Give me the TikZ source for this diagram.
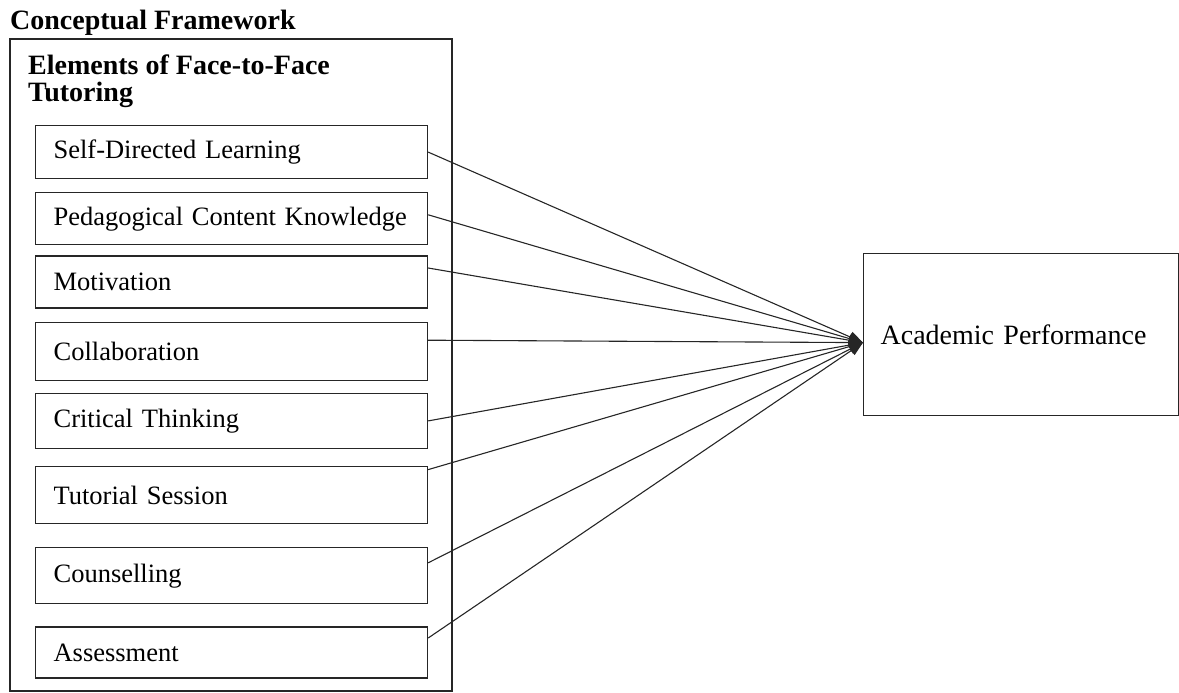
\documentclass[tikz,border=0pt]{standalone}
\usepackage{fontspec}
\setmainfont{Liberation Serif}
\usepackage{tikz}
\usetikzlibrary{positioning,arrows.meta}
\definecolor{cLine}{HTML}{262626}
\tikzset{
  frm/.style={draw=cLine, line width=1.2pt},
  elem/.style={frm, text width=356pt, inner xsep=18pt, inner ysep=0pt,
               align=left, font=\fontsize{26.5}{30}\selectfont},
  outc/.style={frm, text width=281pt, inner xsep=17pt, inner ysep=0pt,
               minimum height=162pt, align=left, font=\fontsize{28}{32}\selectfont},
  hd/.style={inner sep=0pt, align=left, font=\bfseries\fontsize{28}{26.7}\selectfont},
  ar/.style={-{Triangle[length=14pt,width=11pt]}, cLine, line width=1.1pt}
}
\begin{document}
\begin{tikzpicture}[x=1pt, y=1pt]
\useasboundingbox (0,0) rectangle (1179,-693);
\node[hd, anchor=base west] (title) at (10,-30) {Conceptual Framework};
\draw[frm] (10,-39) rectangle (452,-691);
\node[hd, anchor=base west] (head) at (28,-101.7) {Elements of Face-to-Face\\Tutoring};
\node[elem, anchor=north west, minimum height=53pt] (sdl) at (35,-125) {Self-Directed Learning};
\node[elem, below=13pt of sdl, minimum height=52pt] (pck) {Pedagogical Content Knowledge};
\node[elem, below=10pt of pck, minimum height=52pt] (mot) {Motivation};
\node[elem, below=13pt of mot, minimum height=58pt] (col) {Collaboration};
\node[elem, below=12pt of col, minimum height=55pt] (crt) {Critical Thinking};
\node[elem, below=17pt of crt, minimum height=57pt] (tut) {Tutorial Session};
\node[elem, below=23pt of tut, minimum height=56pt] (cou) {Counselling};
\node[elem, below=22pt of cou, minimum height=51pt] (ass) {Assessment};
\node[outc, anchor=north west] (ap) at (863,-253) {Academic Performance};
\draw[ar] (sdl.east) -- ([yshift=-8pt]ap.west); \draw[ar] ([yshift=4pt]pck.east) -- ([yshift=-8pt]ap.west);
\draw[ar] ([yshift=14pt]mot.east) -- ([yshift=-8pt]ap.west); \draw[ar] ([yshift=11pt]col.east) -- ([yshift=-8pt]ap.west);
\draw[ar] (crt.east) -- ([yshift=-8pt]ap.west); \draw[ar] ([yshift=25.5pt]tut.east) -- ([yshift=-8pt]ap.west);
\draw[ar] ([yshift=13pt]cou.east) -- ([yshift=-8pt]ap.west); \draw[ar] ([yshift=14.5pt]ass.east) -- ([yshift=-8pt]ap.west);
\end{tikzpicture}
\end{document}
